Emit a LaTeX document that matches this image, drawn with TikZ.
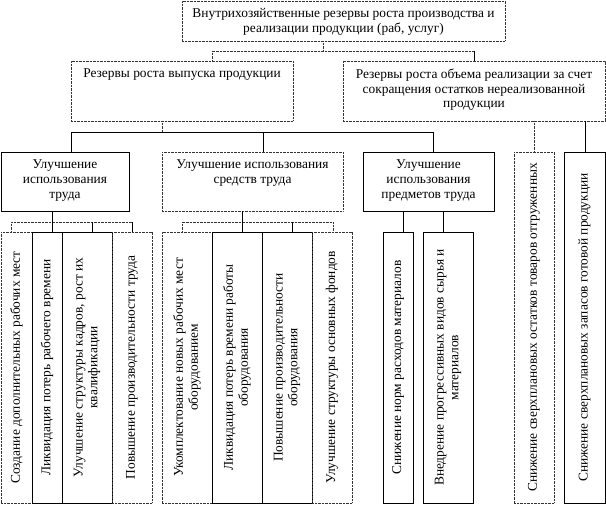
\documentclass[tikz,border=0pt]{standalone}
\usepackage{fontspec}
\setmainfont{Liberation Serif}
\begin{document}
\begin{tikzpicture}[x=1pt,y=-1pt,
  solidbox/.style={draw=black, line width=0.8pt, inner sep=0pt},
  dotbox/.style={draw=black!80, dash pattern=on 0.8pt off 0.6pt, line width=0.9pt, inner sep=0pt},
  conn/.style={draw=black, line width=0.8pt},
  dotconn/.style={draw=black!80, dash pattern=on 0.8pt off 0.6pt, line width=0.9pt},
  txt/.style={font=\fontsize{13.4}{14.8}\selectfont, align=center, inner sep=0pt},
  htxt/.style={txt, anchor=north, yshift=-8pt},
  vtxt/.style={txt, rotate=90}]
\useasboundingbox (0,0) rectangle (606,506);
% level 0
\node[dotbox, minimum width=323pt, minimum height=40pt] (top) at (343.5,21) {};
% level 1
\node[dotbox, minimum width=222pt, minimum height=60pt] (lres) at (182,91) {};
\node[dotbox, minimum width=262pt, minimum height=60pt] (rres) at (474,91) {};
% level 2
\node[solidbox, minimum width=128pt, minimum height=59pt] (b1) at (65,181.5) {};
\node[dotbox, minimum width=181pt, minimum height=59pt] (b2) at (252.5,181.5) {};
\node[solidbox, minimum width=131pt, minimum height=59pt] (b3) at (428.5,181.5) {};
\node[dotbox, minimum width=40pt, minimum height=351pt] (c1) at (534,327.5) {};
\node[solidbox, minimum width=41pt, minimum height=351pt] (c2) at (584.5,327.5) {};
% level 3
\node[dotbox, minimum width=31pt, minimum height=271pt] (t11) at (16.5,367.5) {};
\node[solidbox, minimum width=30pt, minimum height=271pt] (t12) at (47,367.5) {};
\node[solidbox, minimum width=50pt, minimum height=271pt] (t13) at (87,367.5) {};
\node[dotbox, minimum width=40pt, minimum height=271pt] (t14) at (132,367.5) {};
\node[dotbox, minimum width=50pt, minimum height=271pt] (t21) at (187,367.5) {};
\node[solidbox, minimum width=50pt, minimum height=271pt] (t22) at (237,367.5) {};
\node[solidbox, minimum width=50pt, minimum height=271pt] (t23) at (287,367.5) {};
\node[dotbox, minimum width=40pt, minimum height=271pt] (t24) at (332,367.5) {};
\node[solidbox, minimum width=30pt, minimum height=271pt] (t31) at (398,367.5) {};
\node[solidbox, minimum width=50pt, minimum height=271pt] (t32) at (448,367.5) {};
% texts
\node[htxt] at (top.north) {Внутрихозяйственные резервы роста производства и\\реализации продукции (раб, услуг)};
\node[htxt] at (lres.north) {Резервы роста выпуска продукции};
\node[htxt] at (rres.north) {Резервы роста объема реализации за счет\\сокращения остатков нереализованной\\продукции};
\node[htxt] at (b1.north) {Улучшение\\использования\\труда};
\node[htxt] at (b2.north) {Улучшение использования\\средств труда};
\node[htxt] at (b3.north) {Улучшение\\использования\\предметов труда};
\node[vtxt] at (c1) {Снижение сверхплановых остатков товаров отгруженных};
\node[vtxt] at (c2) {Снижение сверхплановых запасов готовой продукции};
\node[vtxt] at (t11) {Создание дополнительных рабочих мест};
\node[vtxt] at (t12) {Ликвидация потерь рабочего времени};
\node[vtxt] at (t13) {Улучшение структуры кадров, рост их\\квалификации};
\node[vtxt] at (t14) {Повышение производительности труда};
\node[vtxt] at (t21) {Укомплектование новых рабочих мест\\оборудованием};
\node[vtxt] at (t22) {Ликвидация потерь времени работы\\оборудования};
\node[vtxt] at (t23) {Повышение производительности\\оборудования};
\node[vtxt] at (t24) {Улучшение структуры основных фондов};
\node[vtxt] at (t31) {Снижение норм расходов материалов};
\node[vtxt] at (t32) {Внедрение прогрессивных видов сырья и\\материалов};
% attach points
\coordinate (topS) at ([xshift=-20.5pt]top.south);
\coordinate (lresN) at ([xshift=30pt]lres.north);
\coordinate (lresS) at ([xshift=-20pt]lres.south);
\coordinate (rresS1) at ([xshift=60pt]rres.south);
\coordinate (rresS2) at ([xshift=111pt]rres.south);
\coordinate (b1N) at ([xshift=6pt]b1.north);
\coordinate (b2N) at ([xshift=10.5pt]b2.north);
\coordinate (b3N) at ([xshift=4.5pt]b3.north);
\coordinate (b1S) at ([xshift=-13pt]b1.south);
\coordinate (b2S) at ([xshift=-10.5pt]b2.south);
\coordinate (b3S1) at ([xshift=-25.5pt]b3.south);
\coordinate (b3S2) at ([xshift=14.5pt]b3.south);
\coordinate (t11N) at ([xshift=-5.5pt]t11.north);
\coordinate (t12N) at ([xshift=5pt]t12.north);
\coordinate (t13N) at ([xshift=5pt]t13.north);
\coordinate (t14N) at (t14.north);
\coordinate (t21N) at ([xshift=-5pt]t21.north);
\coordinate (t22N) at ([xshift=5pt]t22.north);
\coordinate (t23N) at ([xshift=5pt]t23.north);
\coordinate (t24N) at ([xshift=1pt]t24.north);
% connectors
\draw[dotconn] (topS) -- ++(0,10) coordinate (h1);
\draw[dotconn] (lresN) |- (h1) -- (h1 -| rres.north);
\draw[conn] (h1 -| rres.north) -- (rres.north);
\draw[dotconn] (lresS) -- ++(0,11) coordinate (h2);
\draw[conn] (b1N) |- (h2 -| b3N) -- (b3N);
\draw[conn] (h2 -| b2N) -- (b2N);
\draw[conn] (b1S) -- ++(0,11) coordinate (h3);
\draw[dotconn] (h3 -| t11N) -- (h3 -| t14N);
\draw[dotconn] (h3 -| t11N) -- (t11N);
\draw[conn] (h3 -| t12N) -- (t12N);
\draw[conn] (h3 -| t13N) -- (t13N);
\draw[conn] (h3 -| t14N) -- (t14N);
\draw[conn] (b2S) -- ++(0,11) coordinate (h4);
\draw[dotconn] (t21N) |- (h4 -| t24N) -- (t24N);
\draw[conn] (h4 -| t22N) -- (t22N);
\draw[conn] (h4 -| t23N) -- (t23N);
\draw[conn] (b3S1) -- (b3S1 |- t31.north);
\draw[conn] (b3S2) -- (b3S2 |- t32.north);
\draw[dotconn] (rresS1) -- (rresS1 |- c1.north);
\draw[conn] (rresS2) -- (rresS2 |- c2.north);
\end{tikzpicture}
\end{document}
